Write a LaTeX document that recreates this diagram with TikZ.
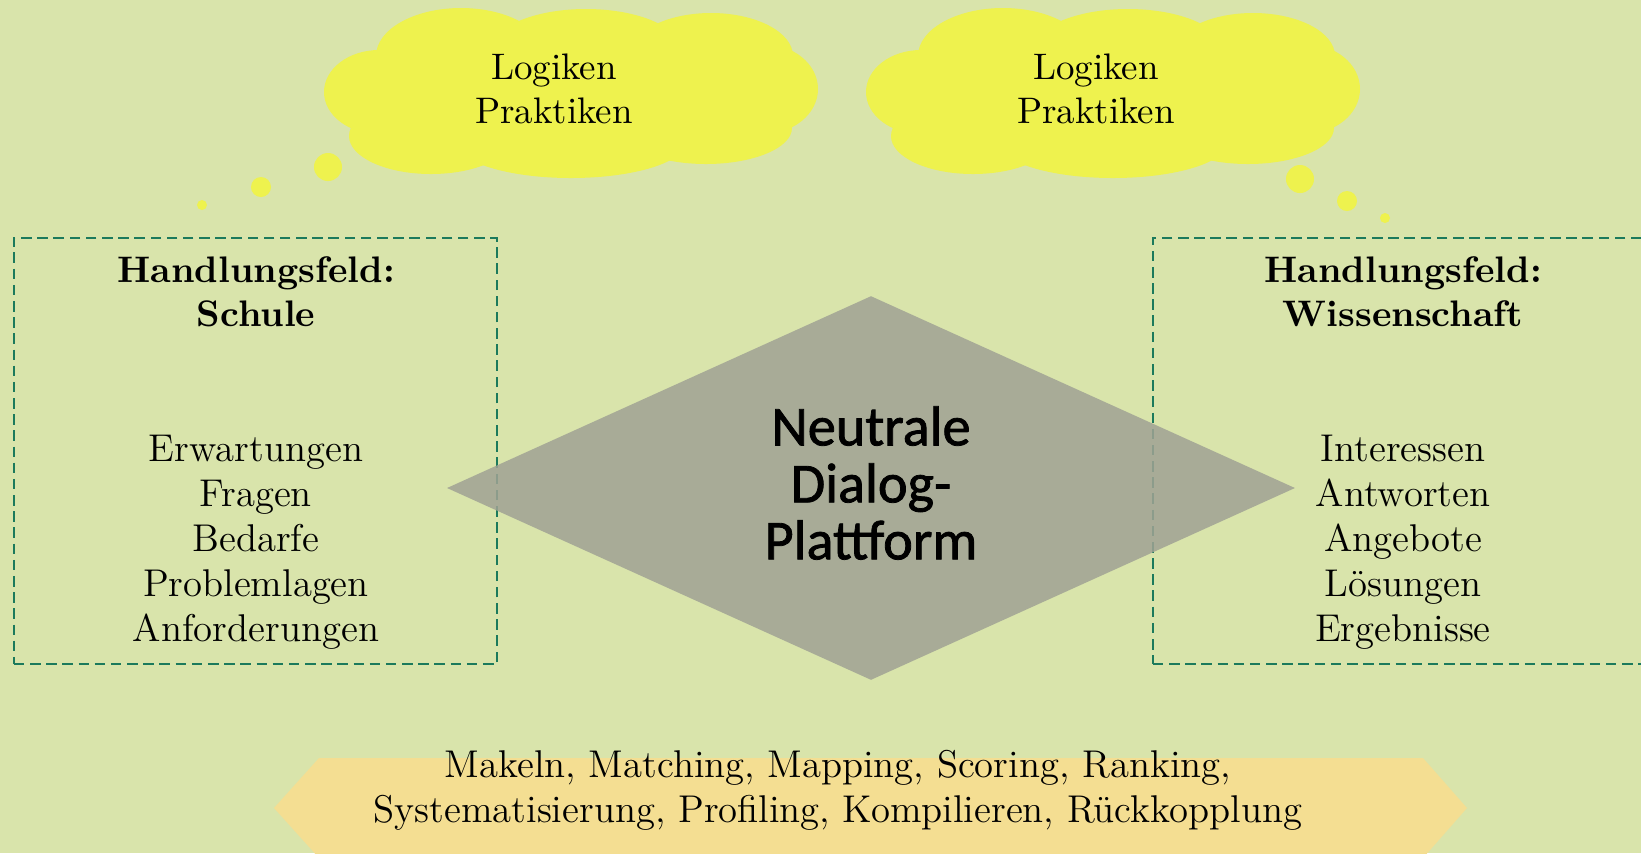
\documentclass[tikz,border=0pt]{standalone}
\usepackage{fontspec}
\usepackage{tikz}
\usetikzlibrary{positioning}
\usetikzlibrary{shapes.geometric}
\newfontfamily\plattformfont[FakeBold=1.4]{Carlito}
\definecolor{hintergrund}{RGB}{217,228,171}
\definecolor{feldgruen}{RGB}{28,122,92}
\definecolor{wolkengelb}{RGB}{238,242,78}
\definecolor{rautengrau}{RGB}{160,162,148}
\definecolor{bandorange}{RGB}{244,222,146}

\tikzset{
    feld/.style={draw=feldgruen, line width=0.65pt, dash pattern=on 3pt off 1.6pt,
        minimum width=4.83cm, minimum height=4.26cm, inner sep=0pt},
    blase/.style={circle, fill=wolkengelb, inner sep=0pt},
    raute/.style={diamond, fill=rautengrau, fill opacity=0.85,
        minimum width=8.48cm, minimum height=3.84cm, inner sep=0pt},
    rautetext/.style={align=center, font=\plattformfont\fontsize{16}{16.2}\selectfont},
    titel/.style={align=center, font=\bfseries\fontsize{10.5}{12.5}\selectfont},
    liste/.style={align=center, font=\fontsize{11}{12.8}\selectfont},
    wolketext/.style={align=center, font=\fontsize{10.5}{12.5}\selectfont}
}

\begin{document}
\begin{tikzpicture}[x=0.01cm, y=-0.01cm]
    \fill[hintergrund] (0,0) rectangle (1641,853);
    \useasboundingbox (0,0) rectangle (1641,853);

    % Handlungsfelder
    \node[feld] (schule) at (255.5,451) {};
    \node[feld, minimum width=5.0cm] (wissenschaft) at (1403,451) {};

    % Plattform
    \node[raute] (plattform) at (871,488) {};
    \node[rautetext] (plattformtext) at ([yshift=0.05cm]plattform.center) {Neutrale\\Dialog-\\Plattform};

    % Denkblasen
    \coordinate (wolkeL) at (571,94);
    \coordinate (wolkeR) at (1113,94);
    \foreach \w in {wolkeL,wolkeR}
        \foreach \dx/\dy/\rx/\ry in {0/5/200/62, -110/-38/85/48, 15/-44/95/41,
                                     140/-38/82/43, 192/-5/55/45, -192/-2/55/42,
                                     -140/42/82/38, 0/48/115/36, 135/34/86/36}
            \fill[wolkengelb] ([shift={(\dx,\dy)}]\w) ellipse [x radius=\rx, y radius=\ry];
    \node[wolketext] (logikL) at ([xshift=-0.17cm, yshift=0.05cm]wolkeL) {Logiken\\Praktiken};
    \node[wolketext] (logikR) at ([xshift=-0.17cm, yshift=0.05cm]wolkeR) {Logiken\\Praktiken};

    \node[blase, minimum size=0.28cm] (bL1) at (328,167) {};
    \node[blase, minimum size=0.20cm] (bL2) at (261,187) {};
    \node[blase, minimum size=0.10cm] (bL3) at (202,205) {};
    \node[blase, minimum size=0.28cm] (bR1) at (1300,179) {};
    \node[blase, minimum size=0.20cm] (bR2) at (1347,201) {};
    \node[blase, minimum size=0.10cm] (bR3) at (1385,218) {};

    % Texte der Felder
    \node[titel] (schuletitel) at (256,292) {Handlungsfeld:\\Schule};
    \node[liste] (schuleliste) at (256,542) {Erwartungen\\Fragen\\Bedarfe\\Problemlagen\\Anforderungen};
    \node[titel] (wisstitel) at (1403,292) {Handlungsfeld:\\Wissenschaft};
    \node[liste] (wissliste) at (1403,542) {Interessen\\Antworten\\Angebote\\Lösungen\\Ergebnisse};

    % Band unten
    \fill[bandorange] (274,808) -- (319,758) -- (1423,758) -- (1467,808) -- (1423,858) -- (319,858) -- cycle;
    \node[liste] (verfahren) at (838,790.5) {Makeln, Matching, Mapping, Scoring, Ranking,\\Systematisierung, Profiling, Kompilieren, Rückkopplung};
\end{tikzpicture}
\end{document}
